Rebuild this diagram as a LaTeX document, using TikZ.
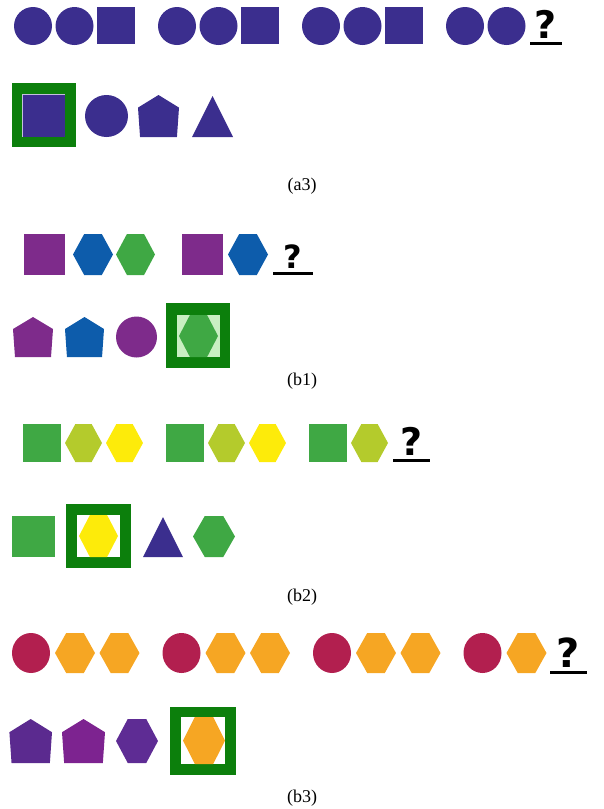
\documentclass[tikz,border=0pt]{standalone}
\usepackage{fontspec}
\setmainfont{Liberation Serif}
\newfontfamily\qfont{DejaVu Sans}
\definecolor{indigo}{HTML}{3B2E8E}
\definecolor{frameg}{HTML}{0C7F0C}
\definecolor{purp}{HTML}{7E2B8B}
\definecolor{blu}{HTML}{0D5CAB}
\definecolor{grn}{HTML}{3FA844}
\definecolor{lightg}{HTML}{C9EFC2}
\definecolor{ygrn}{HTML}{B4CB2C}
\definecolor{yel}{HTML}{FDEB0A}
\definecolor{crim}{HTML}{B21F4F}
\definecolor{oran}{HTML}{F6A623}
\definecolor{pentA}{HTML}{5B2A8F}
\definecolor{pentB}{HTML}{7D2390}
\definecolor{hexC}{HTML}{5E2C94}
\tikzset{
  hexa/.pic={\fill (-0.5,0) -- (-0.22,-0.5) -- (0.22,-0.5) -- (0.5,0) -- (0.22,0.5) -- (-0.22,0.5) -- cycle;},
  penta/.pic={\fill (0,-0.5) -- (0.5,-0.2) -- (0.45,0.5) -- (-0.45,0.5) -- (-0.5,-0.2) -- cycle;},
  tri/.pic={\fill (0,-0.5) -- (0.5,0.5) -- (-0.5,0.5) -- cycle;},
  sq/.pic={\fill (-0.5,-0.5) rectangle (0.5,0.5);},
  disc/.pic={\fill (0,0) circle (0.5);},
  qm/.style={font=\qfont\bfseries\fontsize{#1}{#1}\selectfont, anchor=base, inner sep=0pt},
  uline/.style={line width=3pt, black},
  caplabel/.style={font=\fontsize{18}{18}\selectfont, inner sep=0pt},
}
\begin{document}
\begin{tikzpicture}[x=1pt,y=-1pt]
\useasboundingbox (0,0) rectangle (603,809);
% ---------- (a3) row 1
\foreach \cx in {33,74.5,177,218.5,321,362.5,465,506.5}
  \pic[fill=indigo, xscale=38, yscale=38] at (\cx,26) {disc};
\foreach \cx in {116,260,404}
  \pic[fill=indigo, xscale=38, yscale=37] at (\cx,25.5) {sq};
\node[qm=38] (qa) at (546,38) {?};
\draw[uline] (530,43) -- (562,43);
% ---------- (a3) row 2
\fill[frameg] (11.5,83) rectangle (76,147);
\fill[indigo] (22,94) rectangle (65,137);
\draw[white!70!indigo, line width=0.8pt] (22.4,136.6) -- (22.4,94.4) -- (64.6,94.4);
\pic[fill=indigo, xscale=43, yscale=42] at (106.5,116) {disc};
\pic[fill=indigo, xscale=41, yscale=42] at (158.5,116) {penta};
\pic[fill=indigo, xscale=41, yscale=41] at (212.5,116.5) {tri};
\node[caplabel] (la3) at (302,186) {(a3)};
% ---------- (b1) row 1
\pic[fill=purp, xscale=41, yscale=41] at (44.5,254.5) {sq};
\pic[fill=blu, xscale=40, yscale=41] at (93,254.5) {hexa};
\pic[fill=grn, xscale=39, yscale=41] at (135.5,254.5) {hexa};
\pic[fill=purp, xscale=41, yscale=41] at (202.5,254.5) {sq};
\pic[fill=blu, xscale=40, yscale=41] at (248,254.5) {hexa};
\node[qm=32] (qb1) at (293,268) {?};
\draw[uline] (273,273) -- (313,273);
% ---------- (b1) row 2
\pic[fill=purp, xscale=40, yscale=40] at (33,337) {penta};
\pic[fill=blu, xscale=39, yscale=40] at (84.5,337) {penta};
\pic[fill=purp, xscale=41, yscale=41] at (136.5,337) {disc};
\fill[frameg] (166,303) rectangle (230,368);
\fill[lightg] (177,315) rectangle (220,357);
\pic[fill=grn, xscale=39, yscale=42] at (198.5,336) {hexa};
\node[caplabel] (lb1) at (302,381) {(b1)};
% ---------- (b2) row 1
\foreach \cx in {41.5,184.5,327.5}
  \pic[fill=grn, xscale=38, yscale=38] at (\cx,443) {sq};
\foreach \cx in {83.5,226.5,369.5}
  \pic[fill=ygrn, xscale=37, yscale=38] at (\cx,443) {hexa};
\foreach \cx in {124.5,267.5}
  \pic[fill=yel, xscale=37, yscale=38] at (\cx,443) {hexa};
\node[qm=38] (qb2) at (411.5,455) {?};
\draw[uline] (393,460) -- (430,460);
% ---------- (b2) row 2
\pic[fill=grn, xscale=43, yscale=41] at (33.5,536.5) {sq};
\fill[frameg] (66,504) rectangle (131,568);
\fill[white] (77,515) rectangle (120,557);
\pic[fill=yel, xscale=39, yscale=42] at (98.5,536) {hexa};
\pic[fill=indigo, xscale=40, yscale=40] at (163,537) {tri};
\pic[fill=grn, xscale=42, yscale=41] at (214,536.5) {hexa};
\node[caplabel] (lb2) at (302,597) {(b2)};
% ---------- (b3) row 1
\foreach \cx in {31,181.5,332,482.5}
  \pic[fill=crim, xscale=38, yscale=40] at (\cx,653) {disc};
\foreach \cx in {75,119.5,225.5,270,376,420.5,526.5}
  \pic[fill=oran, xscale=40, yscale=40] at (\cx,653) {hexa};
\node[qm=40] (qb3) at (568,667) {?};
\draw[uline] (550,672) -- (587,672);
% ---------- (b3) row 2
\pic[fill=pentA, xscale=42.6, yscale=44] at (30.7,741) {penta};
\pic[fill=pentB, xscale=43, yscale=44] at (83.5,741) {penta};
\pic[fill=hexC, xscale=42, yscale=44] at (137,741) {hexa};
\fill[frameg] (170,707) rectangle (236,775);
\fill[white] (181,717) rectangle (225,764);
\pic[fill=oran, xscale=42, yscale=47] at (204,740.5) {hexa};
\node[caplabel] (lb3) at (302,798) {(b3)};
\end{tikzpicture}
\end{document}
